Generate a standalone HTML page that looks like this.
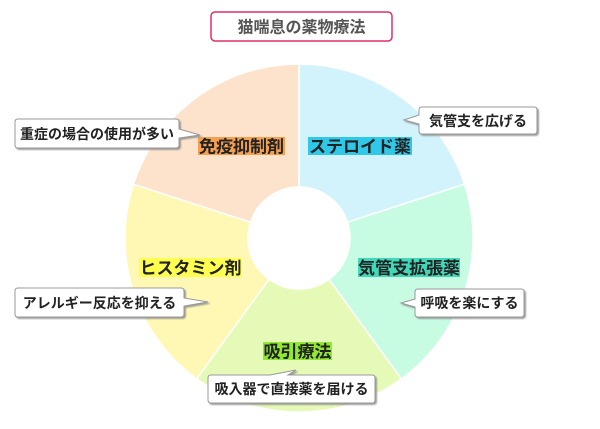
<!DOCTYPE html>
<html><head><meta charset="utf-8"><style>
html,body{margin:0;padding:0;background:#fff;}
svg{display:block;}
text{font-family:"Liberation Sans","Noto Sans CJK JP",sans-serif;font-weight:bold;}
</style></head><body>
<svg width="600" height="429" viewBox="0 0 600 429" xmlns="http://www.w3.org/2000/svg">
<defs>
<filter id="sh" x="-10%" y="-20%" width="130%" height="150%"><feDropShadow dx="1.5" dy="1.5" stdDeviation="0.8" flood-color="#888" flood-opacity="0.8"/></filter>
</defs>
<rect x="211" y="12" width="181" height="29" rx="4" fill="#fff" stroke="#e0306a" stroke-width="1.5"/>
<text x="301.5" y="32.5" font-size="16" fill="#555" text-anchor="middle">猫喘息の薬物療法</text>
<g stroke="#fff" stroke-width="1.5">
<path d="M299,64 A174,174 0 0 1 464.5,184.2 L347.5,222.2 A51,51 0 0 0 299,187 Z" fill="#d2f2fc"/>
<path d="M464.5,184.2 A174,174 0 0 1 401.3,378.8 L329,279.3 A51,51 0 0 0 347.5,222.2 Z" fill="#c8fce2"/>
<path d="M401.3,378.8 A174,174 0 0 1 196.7,378.8 L269,279.3 A51,51 0 0 0 329,279.3 Z" fill="#e6fab8"/>
<path d="M196.7,378.8 A174,174 0 0 1 133.5,184.2 L250.5,222.2 A51,51 0 0 0 269,279.3 Z" fill="#fff8b4"/>
<path d="M133.5,184.2 A174,174 0 0 1 299,64 L299,187 A51,51 0 0 0 250.5,222.2 Z" fill="#fde3cc"/>
</g>
<rect x="198" y="137" width="87" height="18" fill="#f5a050"/>
<text x="241.5" y="152.5" font-size="17" fill="#222" text-anchor="middle">免疫抑制剤</text>
<rect x="308" y="137" width="104" height="18" fill="#30c8e8"/>
<text x="360" y="152.5" font-size="17" fill="#222" text-anchor="middle">ステロイド薬</text>
<rect x="358" y="258" width="102" height="19" fill="#40d8b8"/>
<text x="409" y="274" font-size="17" fill="#222" text-anchor="middle">気管支拡張薬</text>
<rect x="139" y="258" width="103" height="19" fill="#ffff50"/>
<text x="190.5" y="274" font-size="17" fill="#222" text-anchor="middle">ヒスタミン剤</text>
<rect x="263" y="342" width="69" height="18" fill="#90e830"/>
<text x="297.5" y="357.5" font-size="17" fill="#222" text-anchor="middle">吸引療法</text>
<g fill="#fff" stroke="#999" stroke-width="1" filter="url(#sh)">
<path d="M18,119 H176 Q179,119 179,122 V129 L200,135 L179,138 V145 Q179,148 176,148 H18 Q15,148 15,145 V122 Q15,119 18,119 Z"/>
<path d="M422,107 H534 Q537,107 537,110 V131 Q537,134 534,134 H422 Q419,134 419,131 V124 L404,120 L419,115 V110 Q419,107 422,107 Z"/>
<path d="M18,288 H181 Q184,288 184,291 V298 L208,302 L184,306 V314 Q184,317 181,317 H18 Q15,317 15,314 V291 Q15,288 18,288 Z"/>
<path d="M418,289 H521 Q524,289 524,292 V314 Q524,317 521,317 H418 Q415,317 415,314 V307 L401,303 L415,299 V292 Q415,289 418,289 Z"/>
<path d="M211,375 H270 L296,370 L288,375 H372 Q375,375 375,378 V400 Q375,403 372,403 H211 Q208,403 208,400 V378 Q208,375 211,375 Z"/>
</g>
<g font-size="14" fill="#222">
<text x="97" y="139" text-anchor="middle">重症の場合の使用が多い</text>
<text x="478" y="126" text-anchor="middle">気管支を広げる</text>
<text x="99.5" y="308" text-anchor="middle">アレルギー反応を抑える</text>
<text x="469.5" y="308" text-anchor="middle">呼吸を楽にする</text>
<text x="291.5" y="394" text-anchor="middle">吸入器で直接薬を届ける</text>
</g>
</svg>
</body></html>
